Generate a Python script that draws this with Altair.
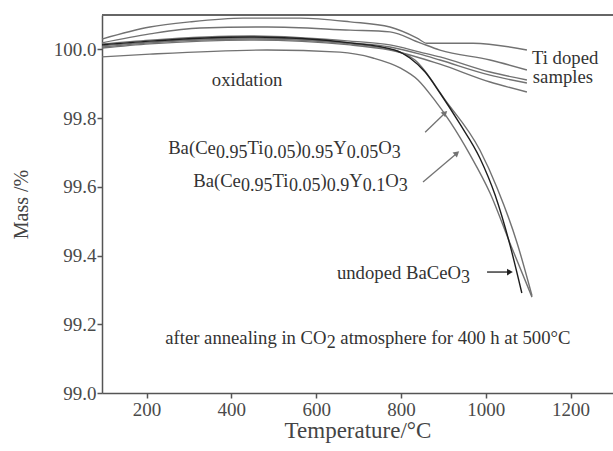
import altair as alt
import pandas as pd

FONT = "Liberation Serif"

# ---- curves: temperature (°C) and mass (%) ----
ti_a_T = [95, 208, 302, 428, 562, 680, 774, 838, 861, 970, 1097]
ti_a_M = [100.030, 100.065, 100.080, 100.091, 100.091, 100.080, 100.065, 100.033, 100.018, 100.018, 99.998]

ti_b_T = [95, 208, 326, 485, 680, 774, 845, 892, 1010, 1097]
ti_b_M = [100.019, 100.045, 100.062, 100.065, 100.056, 100.051, 100.019, 99.998, 99.969, 99.940]

ti_band_T = [95, 208, 444, 680, 774, 845, 892, 1010, 1097]
ti_c_M = [100.016, 100.027, 100.039, 100.024, 100.013, 99.992, 99.978, 99.934, 99.911]
ti_d_M = [100.010, 100.021, 100.033, 100.019, 100.007, 99.986, 99.969, 99.925, 99.902]
ti_e_M = [100.004, 100.016, 100.027, 100.013, 99.998, 99.975, 99.957, 99.905, 99.876]

y01_T = [95, 208, 484, 656, 734, 798, 840, 876, 916, 963, 1010, 1057, 1109]
y01_M = [99.978, 99.986, 99.998, 99.992, 99.975, 99.946, 99.911, 99.858, 99.789, 99.693, 99.582, 99.436, 99.279]

y005_T = [95, 208, 444, 680, 798, 833, 904, 986, 1026, 1074, 1109]
y005_M = [100.007, 100.019, 100.030, 100.016, 99.992, 99.969, 99.853, 99.707, 99.599, 99.436, 99.283]

undoped_T = [95, 208, 444, 680, 786, 821, 857, 892, 939, 986, 1022, 1057, 1085]
undoped_M = [100.013, 100.024, 100.036, 100.019, 99.998, 99.975, 99.934, 99.873, 99.783, 99.684, 99.576, 99.431, 99.291]

x_ticks = [200, 400, 600, 800, 1000, 1200]
y_ticks = [99.0, 99.2, 99.4, 99.6, 99.8, 100.0]

GRAY = "#727272"
DARK = "#1e1e1e"
TXT = "#333333"

series = [
    ("ti_a", ti_a_T, ti_a_M, GRAY),
    ("ti_b", ti_b_T, ti_b_M, GRAY),
    ("ti_c", ti_band_T, ti_c_M, GRAY),
    ("ti_d", ti_band_T, ti_d_M, GRAY),
    ("ti_e", ti_band_T, ti_e_M, GRAY),
    ("y01", y01_T, y01_M, GRAY),
    ("y005", y005_T, y005_M, GRAY),
    ("undoped", undoped_T, undoped_M, DARK),
]
rows = []
for order, (name, T, M, col) in enumerate(series):
    for t, m in zip(T, M):
        rows.append({"series": name, "T": t, "M": m, "col": col, "o": order})
df = pd.DataFrame(rows)

xscale = alt.Scale(domain=[95, 1300], nice=False, zero=False)
yscale = alt.Scale(domain=[99.0, 100.1], nice=False, zero=False)

xaxis = alt.Axis(values=x_ticks, format="d", title="Temperature/°C", labelPadding=2,
                 titleFontSize=23, titlePadding=0)
yaxis = alt.Axis(values=y_ticks, format=".1f", title="Mass /%", labelPadding=1,
                 titleFontSize=20, titlePadding=22)

XE = alt.X("T:Q", scale=xscale, axis=xaxis)
YE = alt.Y("M:Q", scale=yscale, axis=yaxis)

lines = alt.Chart(df).mark_line(strokeWidth=1.4, interpolate="monotone").encode(
    x=XE, y=YE,
    detail="series:N",
    color=alt.Color("col:N", scale=None),
    order="o:Q",
)

top_rule = alt.Chart(pd.DataFrame({"a": [0]})).mark_rule(color="#666", strokeWidth=2).encode(
    x=alt.value(0), x2=alt.value(511), y=alt.value(0))

# Times-metric widths (per 1000 em) for placing sub-scripted segments
W = {"B": 667, "a": 444, "(": 333, ")": 333, "C": 667, "e": 444, "T": 611, "i": 278,
     "Y": 722, "O": 722, ".": 250, " ": 250, "u": 500, "n": 500, "d": 500, "o": 500,
     "p": 500, "f": 333, "t": 278, "r": 333, "l": 278, "g": 500, "m": 778, "s": 389,
     "h": 500, "°": 400}


def tw(s, size):
    return sum(W.get(c, 500) for c in s) / 1000.0 * size


def rich(parts, x, y, fs=18.7, ss=18.0, sub_dy=5):
    layers = []
    off = 0.0
    d = pd.DataFrame({"T": [x], "M": [y]})
    for txt, sub in parts:
        size = ss if sub else fs
        lead = len(txt) - len(txt.lstrip(" "))
        off += tw(" " * lead, size)
        body = txt.strip(" ")
        layers.append(
            alt.Chart(d).mark_text(align="left", baseline="middle", dx=off,
                                   dy=sub_dy if sub else 0, fontSize=size, font=FONT,
                                   color=TXT).encode(
                x=XE, y=YE, text=alt.value(body)))
        off += tw(txt.lstrip(" "), size)
    return layers


texts = []
texts += rich([("oxidation", False)], 354, 99.911)
texts += rich([("Ti doped", False)], 1109, 99.975)
texts += rich([("samples", False)], 1111, 99.920)
texts += rich([("Ba(Ce", False), ("0.95", True), ("Ti", False), ("0.05", True), (")", False),
               ("0.95", True), ("Y", False), ("0.05", True), ("O", False), ("3", True)], 251, 99.713)
texts += rich([("Ba(Ce", False), ("0.95", True), ("Ti", False), ("0.05", True), (")", False),
               ("0.9", True), ("Y", False), ("0.1", True), ("O", False), ("3", True)], 310, 99.617)
texts += rich([("undoped BaCeO", False), ("3", True)], 649, 99.349)
texts += rich([("after annealing in CO", False), ("2", True),
               (" atmosphere for 400 h at 500°C", False)], 244, 99.160)

# arrows
arr_id = ["a1", "a1", "a2", "a2", "a3", "a3"]
arr_T = [857, 904, 852, 932, 1003, 1057]
arr_M = [99.759, 99.815, 99.614, 99.698, 99.352, 99.352]
arr_col = [GRAY, GRAY, GRAY, GRAY, DARK, DARK]
adf = pd.DataFrame({"id": arr_id, "T": arr_T, "M": arr_M, "col": arr_col})
arrow_lines = alt.Chart(adf).mark_line(strokeWidth=1.3).encode(
    x=XE, y=YE, detail="id:N", color=alt.Color("col:N", scale=None))

head_T = [904, 932, 1057]
head_M = [99.815, 99.698, 99.352]
head_ang = [46, 50, 90]
head_col = [GRAY, GRAY, DARK]
hdf = pd.DataFrame({"T": head_T, "M": head_M, "ang": head_ang, "col": head_col})
heads = alt.Chart(hdf).mark_point(shape="triangle-up", filled=True, size=45, opacity=1).encode(
    x=XE, y=YE,
    angle=alt.Angle("ang:Q", scale=None), color=alt.Color("col:N", scale=None))

chart = alt.layer(lines, top_rule, arrow_lines, heads, *texts).properties(
    width=511, height=378,
    autosize=alt.AutoSizeParams(type="none"),
    padding={"left": 102, "top": 15, "right": 0, "bottom": 58},
    background="white",
).configure_view(stroke=None).configure_axis(
    grid=False, tickSize=5,
    labelFont=FONT, labelFontSize=19, labelColor="#4a4a4a",
    titleFont=FONT, titleFontWeight="normal", titleColor="#444",
    domainColor="#555", domainWidth=1.5, tickColor="#555", tickWidth=1.5,
)

chart.save("out.html", embed_options={"renderer": "svg", "actions": False})
